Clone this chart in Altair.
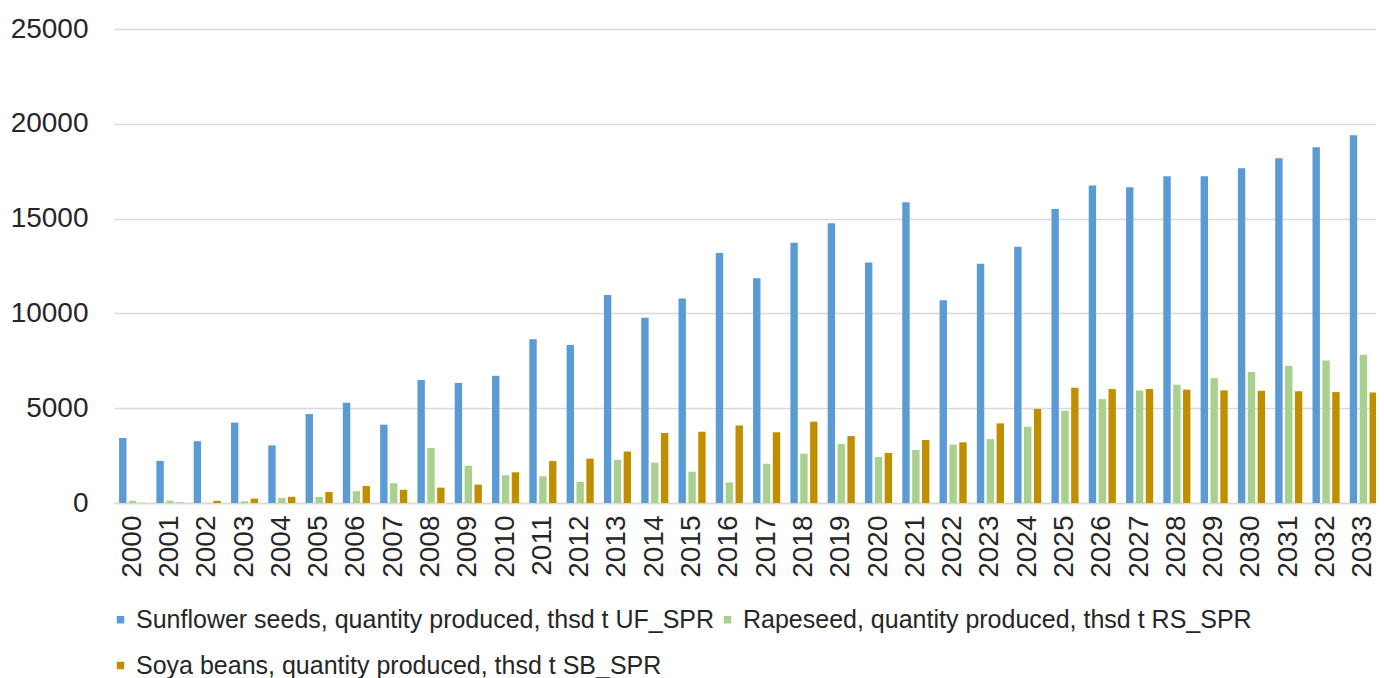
import altair as alt
import pandas as pd

years = [str(y) for y in range(2000, 2034)]

sunflower = [3430, 2220, 3260, 4240, 3040, 4690, 5290, 4130, 6490, 6330,
             6710, 8640, 8330, 10970, 9770, 10790, 13190, 11850, 13730, 14750,
             12690, 15860, 10700, 12620, 13520, 15510, 16750, 16660, 17230, 17230,
             17650, 18180, 18760, 19400]
rapeseed = [120, 120, 10, 90, 260, 320, 620, 1040, 2900, 1970,
            1460, 1410, 1120, 2280, 2130, 1650, 1090, 2070, 2600, 3110,
            2430, 2800, 3080, 3370, 4020, 4870, 5480, 5940, 6240, 6590,
            6910, 7220, 7520, 7820]
soya = [10, 20, 120, 230, 330, 580, 900, 700, 810, 970,
        1620, 2210, 2340, 2710, 3690, 3760, 4090, 3730, 4290, 3530,
        2640, 3320, 3200, 4200, 4960, 6080, 6010, 6010, 5980, 5940,
        5920, 5890, 5850, 5830]

series_names = [
    "Sunflower seeds, quantity produced, thsd t UF_SPR",
    "Rapeseed, quantity produced, thsd t RS_SPR",
    "Soya beans, quantity produced, thsd t SB_SPR",
]
series_colors = ["#5B9BD5", "#A9D18E", "#BF8F00"]

rows = []
for name, vals in zip(series_names, [sunflower, rapeseed, soya]):
    for y, v in zip(years, vals):
        rows.append({"year": y, "series": name, "value": v})
df = pd.DataFrame(rows)

FONT = "Liberation Sans"
TXT = "#262626"

chart = alt.Chart(df).mark_bar().encode(
    x=alt.X("year:N", sort=years, title=None,
            scale=alt.Scale(paddingInner=0.22, paddingOuter=0.11,
                            range=[0, 1268]),
            axis=alt.Axis(labelAngle=270, labelFontSize=28, labelFont=FONT,
                          labelColor=TXT, ticks=False, domainColor="#d9d9d9",
                          domainWidth=1.5, labelPadding=12, grid=False)),
    xOffset=alt.XOffset("series:N", sort=series_names,
                        scale=alt.Scale(paddingInner=0.25, paddingOuter=0.1)),
    y=alt.Y("value:Q", title=None,
            scale=alt.Scale(domain=[0, 25000], nice=False),
            axis=alt.Axis(values=[0, 5000, 10000, 15000, 20000, 25000],
                          format="d", labelFontSize=28, labelFont=FONT,
                          labelColor=TXT, ticks=False, domain=False,
                          gridColor="#d9d9d9", gridWidth=1.5,
                          labelPadding=26)),
    color=alt.Color("series:N", sort=series_names,
                    scale=alt.Scale(domain=series_names, range=series_colors),
                    legend=alt.Legend(title=None, orient="none",
                                      legendX=-6, legendY=578,
                                      direction="horizontal", columns=2,
                                      symbolType="square", symbolSize=56,
                                      symbolStrokeWidth=0,
                                      labelFontSize=25, labelFont=FONT,
                                      labelColor=TXT, labelOffset=3,
                                      columnPadding=0, rowPadding=20,
                                      padding=0, labelLimit=1000)),
).properties(
    width=1262,
    height=474,
    autosize=alt.AutoSizeParams(type="none"),
    padding={"left": 106, "top": 21, "right": 0, "bottom": 180},
).configure_view(stroke=None)

chart.save("out.html", embed_options={"renderer": "svg", "actions": False})
